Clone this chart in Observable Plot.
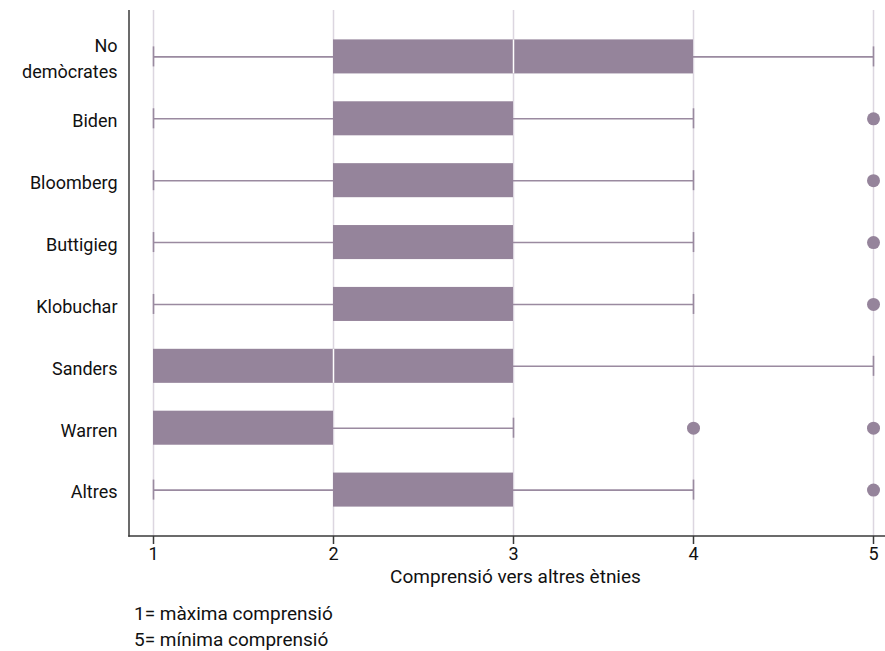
<!DOCTYPE html>
<html>
<head>
<meta charset="utf-8">
<script src="https://cdn.jsdelivr.net/npm/d3@7"></script>
<script src="https://cdn.jsdelivr.net/npm/@observablehq/plot@0.6"></script>
<style>
  body { margin: 0; background: #fff; font-family: Roboto, sans-serif; }
  #caption { padding-left: 134px; padding-top: 6px; font-size: 19px; line-height: 26px; color: #111; }
</style>
</head>
<body>
<div id="chart"></div>
<div id="caption"><div>1= màxima comprensió</div><div>5= mínima comprensió</div></div>
<script>
const categories = ["No\ndemòcrates", "Biden", "Bloomberg", "Buttigieg", "Klobuchar", "Sanders", "Warren", "Altres"];
const mins    = [1, 1, 1, 1, 1, 1, 1, 1];
const q1s     = [2, 2, 2, 2, 2, 1, 1, 2];
const medians = [3, 3, 3, 3, 3, 2, 1, 3];
const q3s     = [4, 3, 3, 3, 3, 3, 2, 3];
const maxs    = [5, 4, 4, 4, 4, 5, 3, 4];
const outlierCats = ["Biden", "Bloomberg", "Buttigieg", "Klobuchar", "Warren", "Warren", "Altres"];
const outlierVals = [5, 5, 5, 5, 4, 5, 5];
const xTicks = [1, 2, 3, 4, 5];
const xTitle = "Comprensió vers altres ètnies";

const boxes = categories.map((c, i) => ({cat: c, min: mins[i], q1: q1s[i], med: medians[i], q3: q3s[i], max: maxs[i]}));
const outliers = outlierCats.map((c, i) => ({cat: c, v: outlierVals[i]}));
const lowWhiskers = boxes.filter(d => d.min < d.q1);
const highWhiskers = boxes.filter(d => d.max > d.q3);
const innerMedians = boxes.filter(d => d.med > d.q1 && d.med < d.q3);

const boxColor = "#95849b";
const whiskerColor = "#9a8aa0";
const axisColor = "#3a3a3a";

// axis lines along the left and bottom of the frame
function axisLines(index, scales, values, dimensions) {
  const {width, height, marginLeft, marginRight, marginTop, marginBottom} = dimensions;
  const g = d3.create("svg:g").attr("stroke", axisColor).attr("stroke-width", 1.5);
  g.append("line").attr("x1", marginLeft).attr("x2", marginLeft).attr("y1", marginTop).attr("y2", height - marginBottom + 0.75);
  g.append("line").attr("x1", marginLeft - 0.75).attr("x2", width - marginRight).attr("y1", height - marginBottom).attr("y2", height - marginBottom);
  return g.node();
}

const plot = Plot.plot({
  width: 885,
  height: 595,
  marginLeft: 129,
  marginRight: 0,
  marginTop: 10,
  marginBottom: 59,
  style: {fontFamily: "Roboto, sans-serif", fontSize: "18px", color: "#111", background: "#fff"},
  x: {domain: [1 - 24 / 180, 5 + 12 / 180]},
  y: {domain: categories, paddingInner: 0.45, paddingOuter: 0.475, round: false},
  marks: [
    Plot.gridX(xTicks, {stroke: "#dcd6e0", strokeOpacity: 1, strokeWidth: 1.5}),
    Plot.ruleY(lowWhiskers, {y: "cat", x1: "min", x2: "q1", stroke: whiskerColor, strokeWidth: 1.6}),
    Plot.ruleY(highWhiskers, {y: "cat", x1: "q3", x2: "max", stroke: whiskerColor, strokeWidth: 1.6}),
    Plot.tickX(lowWhiskers, {x: "min", y: "cat", stroke: whiskerColor, strokeWidth: 1.6, insetTop: 7, insetBottom: 7}),
    Plot.tickX(highWhiskers, {x: "max", y: "cat", stroke: whiskerColor, strokeWidth: 1.6, insetTop: 7, insetBottom: 7}),
    Plot.barX(boxes, {y: "cat", x1: "q1", x2: "q3", fill: boxColor}),
    Plot.tickX(innerMedians, {x: "med", y: "cat", stroke: "#fff", strokeWidth: 1.5}),
    Plot.dot(outliers, {x: "v", y: "cat", r: 6.5, fill: boxColor, stroke: "none"}),
    Plot.axisY({tickSize: 0, tickPadding: 12, label: null, lineHeight: 1.45, fill: "#111"}),
    Plot.axisX(xTicks, {tickSize: 8, tickPadding: 3, stroke: axisColor, strokeWidth: 1.5, label: null, tickFormat: d => String(d), fill: "#111"}),
    Plot.text([xTitle], {text: d => d, frameAnchor: "bottom", dy: 46, dx: 8, fill: "#111", fontSize: 19}),
    axisLines
  ]
});
document.getElementById("chart").appendChild(plot);
</script>
</body>
</html>
